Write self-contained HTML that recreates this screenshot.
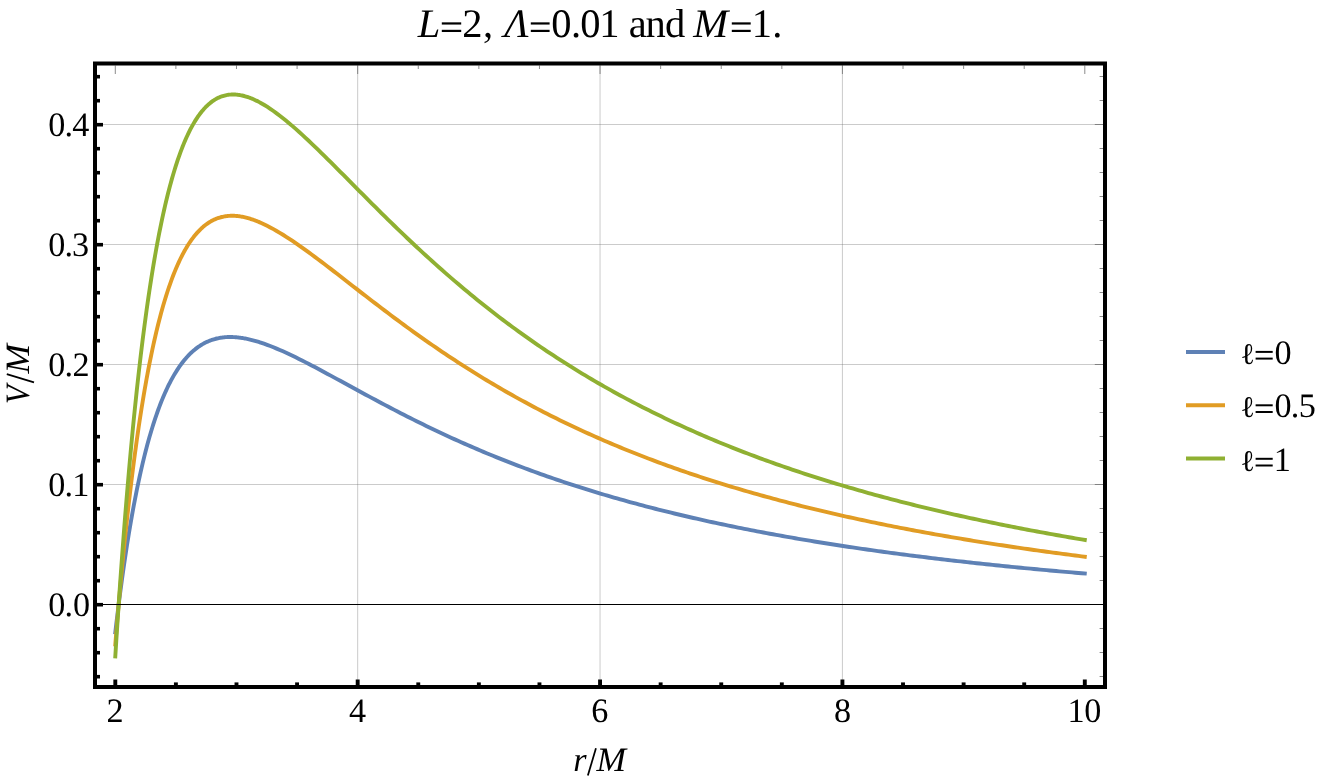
<!DOCTYPE html>
<html><head><meta charset="utf-8"><title>plot</title>
<style>
html,body{margin:0;padding:0;background:#fff;}
body{width:1329px;height:780px;overflow:hidden;position:relative;}
svg{position:absolute;left:0;top:0;display:block;will-change:transform;}
text{font-family:"Liberation Serif",serif;fill:#000;text-rendering:geometricPrecision;}
.i{font-style:italic;}
.ell{font-family:"Liberation Serif","DejaVu Serif",serif;}
</style></head><body>
<svg width="1329" height="780" viewBox="0 0 1329 780">
<rect x="0" y="0" width="1329" height="780" fill="#fff"/>
<g stroke="#666" stroke-opacity="0.34" stroke-width="1" fill="none">
<line x1="357.68" y1="63.50" x2="357.68" y2="687.00"/>
<line x1="600.05" y1="63.50" x2="600.05" y2="687.00"/>
<line x1="842.42" y1="63.50" x2="842.42" y2="687.00"/>
<line x1="95.00" y1="484.50" x2="1105.00" y2="484.50"/>
<line x1="95.00" y1="364.50" x2="1105.00" y2="364.50"/>
<line x1="95.00" y1="244.50" x2="1105.00" y2="244.50"/>
<line x1="95.00" y1="124.50" x2="1105.00" y2="124.50"/>
</g>
<g fill="none" stroke-width="3.9" stroke-linejoin="round" stroke-linecap="square">
<path stroke="#5e81b5" d="M115.30,632.39 L116.28,624.06 L117.25,615.93 L118.23,608.01 L119.20,600.28 L120.18,592.75 L121.16,585.41 L122.13,578.25 L123.11,571.27 L124.08,564.47 L125.06,557.84 L126.04,551.37 L127.01,545.07 L127.99,538.92 L128.96,532.93 L129.94,527.09 L130.92,521.40 L131.89,515.85 L132.87,510.45 L133.84,505.18 L134.82,500.04 L135.80,495.04 L136.77,490.16 L137.75,485.41 L138.72,480.78 L139.70,476.26 L140.68,471.87 L141.65,467.58 L142.63,463.41 L143.60,459.35 L144.58,455.39 L145.56,451.53 L146.53,447.78 L147.51,444.12 L148.48,440.56 L149.46,437.09 L150.44,433.72 L151.41,430.43 L152.39,427.23 L153.36,424.12 L154.34,421.09 L155.32,418.14 L156.29,415.27 L157.27,412.48 L158.24,409.77 L159.22,407.13 L160.20,404.56 L161.17,402.07 L162.15,399.64 L163.12,397.28 L164.10,394.99 L165.08,392.76 L166.05,390.60 L167.03,388.49 L168.00,386.45 L168.98,384.47 L169.96,382.55 L170.93,380.68 L171.91,378.87 L172.88,377.11 L173.86,375.40 L174.84,373.75 L175.81,372.14 L176.79,370.59 L177.76,369.09 L178.74,367.63 L179.72,366.22 L180.69,364.85 L181.67,363.53 L182.64,362.25 L183.62,361.01 L184.60,359.81 L185.57,358.66 L186.55,357.54 L187.52,356.47 L188.50,355.43 L189.48,354.42 L190.45,353.46 L191.43,352.53 L192.40,351.63 L193.38,350.77 L194.36,349.94 L195.33,349.14 L196.31,348.38 L197.28,347.64 L198.26,346.94 L199.24,346.26 L200.21,345.62 L201.19,345.00 L202.16,344.41 L203.14,343.85 L204.12,343.31 L205.09,342.80 L206.07,342.32 L207.04,341.86 L208.02,341.43 L209.00,341.01 L209.97,340.63 L210.95,340.26 L211.92,339.92 L212.90,339.59 L213.88,339.29 L214.85,339.01 L215.83,338.75 L216.80,338.51 L217.78,338.29 L218.76,338.09 L219.73,337.91 L220.71,337.75 L221.68,337.60 L222.66,337.47 L223.64,337.36 L224.61,337.26 L225.59,337.18 L226.56,337.12 L227.54,337.07 L228.52,337.04 L229.49,337.02 L230.47,337.02 L231.44,337.03 L232.42,337.05 L233.40,337.09 L234.37,337.14 L235.35,337.21 L236.32,337.28 L237.30,337.37 L238.28,337.47 L239.25,337.59 L240.23,337.71 L241.20,337.85 L242.18,338.00 L243.16,338.15 L244.13,338.32 L245.11,338.50 L246.08,338.69 L247.06,338.89 L248.04,339.10 L249.01,339.32 L249.99,339.54 L250.96,339.78 L251.94,340.02 L252.92,340.28 L253.89,340.54 L254.87,340.81 L255.84,341.09 L256.82,341.37 L257.80,341.67 L258.77,341.97 L259.75,342.27 L260.73,342.59 L263.91,343.66 L267.09,344.80 L270.27,346.01 L273.45,347.27 L276.63,348.58 L279.82,349.94 L283.00,351.34 L286.18,352.79 L289.36,354.27 L292.54,355.79 L295.72,357.33 L298.91,358.91 L302.09,360.51 L305.27,362.13 L308.45,363.77 L311.63,365.43 L314.81,367.10 L318.00,368.79 L321.18,370.48 L324.36,372.19 L327.54,373.91 L330.72,375.63 L333.91,377.36 L337.09,379.09 L340.27,380.83 L343.45,382.56 L346.63,384.30 L349.81,386.04 L353.00,387.78 L356.18,389.51 L359.36,391.24 L362.54,392.97 L365.72,394.69 L368.90,396.40 L372.09,398.12 L375.27,399.82 L378.45,401.52 L381.63,403.21 L384.81,404.89 L388.00,406.56 L391.18,408.23 L394.36,409.89 L397.54,411.53 L400.72,413.17 L403.90,414.80 L407.09,416.42 L410.27,418.02 L413.45,419.62 L416.63,421.21 L419.81,422.78 L422.99,424.35 L426.18,425.90 L429.36,427.44 L432.54,428.97 L435.72,430.49 L438.90,432.00 L442.09,433.49 L445.27,434.97 L448.45,436.45 L451.63,437.91 L454.81,439.35 L457.99,440.79 L461.18,442.21 L464.36,443.63 L467.54,445.03 L470.72,446.41 L473.90,447.79 L477.08,449.16 L480.27,450.51 L483.45,451.85 L486.63,453.18 L489.81,454.50 L492.99,455.80 L496.18,457.10 L499.36,458.38 L502.54,459.65 L505.72,460.91 L508.90,462.16 L512.08,463.40 L515.27,464.63 L518.45,465.84 L521.63,467.05 L524.81,468.24 L527.99,469.42 L531.17,470.59 L534.36,471.76 L537.54,472.91 L540.72,474.05 L543.90,475.17 L547.08,476.29 L550.26,477.40 L553.45,478.50 L556.63,479.59 L559.81,480.67 L562.99,481.73 L566.17,482.79 L569.36,483.84 L572.54,484.88 L575.72,485.91 L578.90,486.93 L582.08,487.94 L585.26,488.94 L588.45,489.93 L591.63,490.91 L594.81,491.88 L597.99,492.85 L601.17,493.80 L604.35,494.75 L607.54,495.69 L610.72,496.61 L613.90,497.53 L617.08,498.45 L620.26,499.35 L623.45,500.24 L626.63,501.13 L629.81,502.01 L632.99,502.88 L636.17,503.74 L639.35,504.60 L642.54,505.44 L645.72,506.28 L648.90,507.11 L652.08,507.93 L655.26,508.75 L658.44,509.56 L661.63,510.36 L664.81,511.15 L667.99,511.94 L671.17,512.72 L674.35,513.49 L677.54,514.26 L680.72,515.02 L683.90,515.77 L687.08,516.51 L690.26,517.25 L693.44,517.98 L696.63,518.71 L699.81,519.42 L702.99,520.14 L706.17,520.84 L709.35,521.54 L712.53,522.23 L715.72,522.92 L718.90,523.60 L722.08,524.27 L725.26,524.94 L728.44,525.61 L731.62,526.26 L734.81,526.91 L737.99,527.56 L741.17,528.20 L744.35,528.83 L747.53,529.46 L750.72,530.08 L753.90,530.70 L757.08,531.31 L760.26,531.92 L763.44,532.52 L766.62,533.12 L769.81,533.71 L772.99,534.29 L776.17,534.87 L779.35,535.45 L782.53,536.02 L785.71,536.59 L788.90,537.15 L792.08,537.70 L795.26,538.25 L798.44,538.80 L801.62,539.34 L804.81,539.88 L807.99,540.41 L811.17,540.94 L814.35,541.47 L817.53,541.99 L820.71,542.50 L823.90,543.01 L827.08,543.52 L830.26,544.02 L833.44,544.52 L836.62,545.01 L839.80,545.50 L842.99,545.99 L846.17,546.47 L849.35,546.95 L852.53,547.42 L855.71,547.89 L858.90,548.36 L862.08,548.82 L865.26,549.28 L868.44,549.73 L871.62,550.18 L874.80,550.63 L877.99,551.07 L881.17,551.51 L884.35,551.95 L887.53,552.38 L890.71,552.81 L893.89,553.24 L897.08,553.66 L900.26,554.08 L903.44,554.49 L906.62,554.90 L909.80,555.31 L912.99,555.72 L916.17,556.12 L919.35,556.52 L922.53,556.92 L925.71,557.31 L928.89,557.70 L932.08,558.08 L935.26,558.47 L938.44,558.85 L941.62,559.23 L944.80,559.60 L947.98,559.97 L951.17,560.34 L954.35,560.71 L957.53,561.07 L960.71,561.43 L963.89,561.79 L967.07,562.14 L970.26,562.49 L973.44,562.84 L976.62,563.19 L979.80,563.53 L982.98,563.87 L986.17,564.21 L989.35,564.55 L992.53,564.88 L995.71,565.21 L998.89,565.54 L1002.07,565.86 L1005.26,566.19 L1008.44,566.51 L1011.62,566.82 L1014.80,567.14 L1017.98,567.45 L1021.16,567.76 L1024.35,568.07 L1027.53,568.38 L1030.71,568.68 L1033.89,568.98 L1037.07,569.28 L1040.26,569.58 L1043.44,569.87 L1046.62,570.17 L1049.80,570.46 L1052.98,570.75 L1056.16,571.03 L1059.35,571.32 L1062.53,571.60 L1065.71,571.88 L1068.89,572.16 L1072.07,572.43 L1075.25,572.70 L1078.44,572.98 L1081.62,573.25 L1084.80,573.51"/>
<path stroke="#e19c24" d="M115.30,644.39 L116.28,632.48 L117.25,620.86 L118.23,609.52 L119.20,598.47 L120.18,587.68 L121.16,577.17 L122.13,566.91 L123.11,556.91 L124.08,547.16 L125.06,537.64 L126.04,528.36 L127.01,519.32 L127.99,510.49 L128.96,501.89 L129.94,493.50 L130.92,485.32 L131.89,477.34 L132.87,469.57 L133.84,461.98 L134.82,454.59 L135.80,447.38 L136.77,440.35 L137.75,433.50 L138.72,426.82 L139.70,420.32 L140.68,413.97 L141.65,407.79 L142.63,401.76 L143.60,395.89 L144.58,390.17 L145.56,384.59 L146.53,379.16 L147.51,373.86 L148.48,368.71 L149.46,363.69 L150.44,358.79 L151.41,354.03 L152.39,349.39 L153.36,344.87 L154.34,340.47 L155.32,336.19 L156.29,332.02 L157.27,327.96 L158.24,324.02 L159.22,320.17 L160.20,316.43 L161.17,312.80 L162.15,309.26 L163.12,305.82 L164.10,302.47 L165.08,299.22 L166.05,296.06 L167.03,292.98 L168.00,290.00 L168.98,287.10 L169.96,284.28 L170.93,281.54 L171.91,278.88 L172.88,276.30 L173.86,273.80 L174.84,271.36 L175.81,269.01 L176.79,266.72 L177.76,264.50 L178.74,262.35 L179.72,260.27 L180.69,258.25 L181.67,256.30 L182.64,254.40 L183.62,252.57 L184.60,250.80 L185.57,249.09 L186.55,247.43 L187.52,245.83 L188.50,244.28 L189.48,242.79 L190.45,241.35 L191.43,239.95 L192.40,238.61 L193.38,237.32 L194.36,236.08 L195.33,234.88 L196.31,233.73 L197.28,232.62 L198.26,231.56 L199.24,230.54 L200.21,229.56 L201.19,228.63 L202.16,227.73 L203.14,226.87 L204.12,226.05 L205.09,225.27 L206.07,224.52 L207.04,223.82 L208.02,223.14 L209.00,222.50 L209.97,221.90 L210.95,221.32 L211.92,220.78 L212.90,220.27 L213.88,219.80 L214.85,219.35 L215.83,218.93 L216.80,218.54 L217.78,218.18 L218.76,217.85 L219.73,217.54 L220.71,217.26 L221.68,217.01 L222.66,216.78 L223.64,216.57 L224.61,216.39 L225.59,216.24 L226.56,216.11 L227.54,216.00 L228.52,215.91 L229.49,215.84 L230.47,215.80 L231.44,215.77 L232.42,215.77 L233.40,215.79 L234.37,215.82 L235.35,215.88 L236.32,215.95 L237.30,216.04 L238.28,216.15 L239.25,216.28 L240.23,216.42 L241.20,216.58 L242.18,216.76 L243.16,216.95 L244.13,217.16 L245.11,217.38 L246.08,217.62 L247.06,217.87 L248.04,218.14 L249.01,218.42 L249.99,218.71 L250.96,219.02 L251.94,219.34 L252.92,219.67 L253.89,220.02 L254.87,220.37 L255.84,220.74 L256.82,221.12 L257.80,221.51 L258.77,221.92 L259.75,222.33 L260.73,222.75 L263.91,224.20 L267.09,225.76 L270.27,227.40 L273.45,229.13 L276.63,230.94 L279.82,232.82 L283.00,234.77 L286.18,236.78 L289.36,238.84 L292.54,240.96 L295.72,243.12 L298.91,245.32 L302.09,247.57 L305.27,249.84 L308.45,252.15 L311.63,254.49 L314.81,256.85 L318.00,259.23 L321.18,261.63 L324.36,264.05 L327.54,266.48 L330.72,268.92 L333.91,271.37 L337.09,273.83 L340.27,276.30 L343.45,278.77 L346.63,281.24 L349.81,283.72 L353.00,286.19 L356.18,288.66 L359.36,291.13 L362.54,293.59 L365.72,296.05 L368.90,298.51 L372.09,300.95 L375.27,303.39 L378.45,305.82 L381.63,308.24 L384.81,310.65 L388.00,313.05 L391.18,315.44 L394.36,317.82 L397.54,320.18 L400.72,322.53 L403.90,324.87 L407.09,327.20 L410.27,329.51 L413.45,331.80 L416.63,334.09 L419.81,336.35 L422.99,338.60 L426.18,340.84 L429.36,343.06 L432.54,345.26 L435.72,347.45 L438.90,349.63 L442.09,351.78 L445.27,353.92 L448.45,356.05 L451.63,358.15 L454.81,360.24 L457.99,362.32 L461.18,364.38 L464.36,366.42 L467.54,368.44 L470.72,370.45 L473.90,372.44 L477.08,374.42 L480.27,376.38 L483.45,378.32 L486.63,380.24 L489.81,382.15 L492.99,384.04 L496.18,385.92 L499.36,387.78 L502.54,389.62 L505.72,391.45 L508.90,393.26 L512.08,395.06 L515.27,396.84 L518.45,398.60 L521.63,400.35 L524.81,402.08 L527.99,403.80 L531.17,405.50 L534.36,407.19 L537.54,408.86 L540.72,410.52 L543.90,412.16 L547.08,413.79 L550.26,415.40 L553.45,417.00 L556.63,418.58 L559.81,420.15 L562.99,421.70 L566.17,423.24 L569.36,424.77 L572.54,426.28 L575.72,427.78 L578.90,429.27 L582.08,430.74 L585.26,432.19 L588.45,433.64 L591.63,435.07 L594.81,436.49 L597.99,437.90 L601.17,439.29 L604.35,440.67 L607.54,442.04 L610.72,443.39 L613.90,444.74 L617.08,446.07 L620.26,447.39 L623.45,448.69 L626.63,449.99 L629.81,451.27 L632.99,452.54 L636.17,453.80 L639.35,455.05 L642.54,456.29 L645.72,457.52 L648.90,458.73 L652.08,459.94 L655.26,461.13 L658.44,462.31 L661.63,463.48 L664.81,464.65 L667.99,465.80 L671.17,466.94 L674.35,468.07 L677.54,469.19 L680.72,470.30 L683.90,471.40 L687.08,472.49 L690.26,473.58 L693.44,474.65 L696.63,475.71 L699.81,476.76 L702.99,477.81 L706.17,478.84 L709.35,479.87 L712.53,480.88 L715.72,481.89 L718.90,482.89 L722.08,483.88 L725.26,484.86 L728.44,485.83 L731.62,486.80 L734.81,487.75 L737.99,488.70 L741.17,489.64 L744.35,490.57 L747.53,491.50 L750.72,492.41 L753.90,493.32 L757.08,494.22 L760.26,495.11 L763.44,496.00 L766.62,496.87 L769.81,497.74 L772.99,498.60 L776.17,499.46 L779.35,500.31 L782.53,501.15 L785.71,501.98 L788.90,502.81 L792.08,503.62 L795.26,504.44 L798.44,505.24 L801.62,506.04 L804.81,506.83 L807.99,507.62 L811.17,508.40 L814.35,509.17 L817.53,509.94 L820.71,510.70 L823.90,511.45 L827.08,512.20 L830.26,512.94 L833.44,513.67 L836.62,514.40 L839.80,515.12 L842.99,515.84 L846.17,516.55 L849.35,517.26 L852.53,517.96 L855.71,518.65 L858.90,519.34 L862.08,520.02 L865.26,520.70 L868.44,521.37 L871.62,522.04 L874.80,522.70 L877.99,523.35 L881.17,524.01 L884.35,524.65 L887.53,525.29 L890.71,525.93 L893.89,526.56 L897.08,527.18 L900.26,527.80 L903.44,528.42 L906.62,529.03 L909.80,529.63 L912.99,530.23 L916.17,530.83 L919.35,531.42 L922.53,532.01 L925.71,532.59 L928.89,533.17 L932.08,533.74 L935.26,534.31 L938.44,534.87 L941.62,535.43 L944.80,535.99 L947.98,536.54 L951.17,537.09 L954.35,537.63 L957.53,538.17 L960.71,538.70 L963.89,539.23 L967.07,539.76 L970.26,540.28 L973.44,540.80 L976.62,541.32 L979.80,541.83 L982.98,542.33 L986.17,542.84 L989.35,543.34 L992.53,543.83 L995.71,544.32 L998.89,544.81 L1002.07,545.30 L1005.26,545.78 L1008.44,546.25 L1011.62,546.73 L1014.80,547.20 L1017.98,547.66 L1021.16,548.13 L1024.35,548.59 L1027.53,549.04 L1030.71,549.50 L1033.89,549.95 L1037.07,550.39 L1040.26,550.84 L1043.44,551.28 L1046.62,551.71 L1049.80,552.15 L1052.98,552.58 L1056.16,553.00 L1059.35,553.43 L1062.53,553.85 L1065.71,554.27 L1068.89,554.68 L1072.07,555.09 L1075.25,555.50 L1078.44,555.91 L1081.62,556.31 L1084.80,556.71"/>
<path stroke="#8fb032" d="M115.30,656.39 L116.28,640.90 L117.25,625.78 L118.23,611.03 L119.20,596.65 L120.18,582.62 L121.16,568.93 L122.13,555.57 L123.11,542.55 L124.08,529.84 L125.06,517.45 L126.04,505.36 L127.01,493.57 L127.99,482.07 L128.96,470.85 L129.94,459.91 L130.92,449.24 L131.89,438.83 L132.87,428.68 L133.84,418.79 L134.82,409.13 L135.80,399.72 L136.77,390.55 L137.75,381.60 L138.72,372.87 L139.70,364.37 L140.68,356.08 L141.65,347.99 L142.63,340.11 L143.60,332.43 L144.58,324.95 L145.56,317.65 L146.53,310.54 L147.51,303.61 L148.48,296.86 L149.46,290.28 L150.44,283.87 L151.41,277.63 L152.39,271.55 L153.36,265.62 L154.34,259.86 L155.32,254.24 L156.29,248.77 L157.27,243.45 L158.24,238.26 L159.22,233.22 L160.20,228.31 L161.17,223.53 L162.15,218.88 L163.12,214.36 L164.10,209.96 L165.08,205.68 L166.05,201.52 L167.03,197.48 L168.00,193.54 L168.98,189.72 L169.96,186.01 L170.93,182.40 L171.91,178.90 L172.88,175.49 L173.86,172.19 L174.84,168.98 L175.81,165.87 L176.79,162.85 L177.76,159.92 L178.74,157.08 L179.72,154.32 L180.69,151.65 L181.67,149.07 L182.64,146.56 L183.62,144.13 L184.60,141.78 L185.57,139.51 L186.55,137.31 L187.52,135.19 L188.50,133.13 L189.48,131.15 L190.45,129.23 L191.43,127.38 L192.40,125.60 L193.38,123.88 L194.36,122.22 L195.33,120.62 L196.31,119.08 L197.28,117.60 L198.26,116.18 L199.24,114.82 L200.21,113.51 L201.19,112.25 L202.16,111.04 L203.14,109.89 L204.12,108.79 L205.09,107.74 L206.07,106.73 L207.04,105.77 L208.02,104.86 L209.00,103.99 L209.97,103.17 L210.95,102.39 L211.92,101.65 L212.90,100.96 L213.88,100.30 L214.85,99.68 L215.83,99.11 L216.80,98.57 L217.78,98.07 L218.76,97.60 L219.73,97.17 L220.71,96.78 L221.68,96.41 L222.66,96.09 L223.64,95.79 L224.61,95.53 L225.59,95.30 L226.56,95.09 L227.54,94.92 L228.52,94.78 L229.49,94.67 L230.47,94.58 L231.44,94.52 L232.42,94.49 L233.40,94.48 L234.37,94.50 L235.35,94.55 L236.32,94.62 L237.30,94.71 L238.28,94.83 L239.25,94.97 L240.23,95.13 L241.20,95.31 L242.18,95.52 L243.16,95.74 L244.13,95.99 L245.11,96.26 L246.08,96.54 L247.06,96.85 L248.04,97.17 L249.01,97.52 L249.99,97.88 L250.96,98.26 L251.94,98.65 L252.92,99.06 L253.89,99.49 L254.87,99.94 L255.84,100.40 L256.82,100.87 L257.80,101.36 L258.77,101.87 L259.75,102.38 L260.73,102.92 L263.91,104.75 L267.09,106.71 L270.27,108.79 L273.45,110.99 L276.63,113.30 L279.82,115.70 L283.00,118.19 L286.18,120.76 L289.36,123.41 L292.54,126.13 L295.72,128.90 L298.91,131.74 L302.09,134.63 L305.27,137.56 L308.45,140.54 L311.63,143.55 L314.81,146.60 L318.00,149.67 L321.18,152.78 L324.36,155.90 L327.54,159.05 L330.72,162.21 L333.91,165.39 L337.09,168.58 L340.27,171.77 L343.45,174.97 L346.63,178.18 L349.81,181.39 L353.00,184.60 L356.18,187.81 L359.36,191.02 L362.54,194.22 L365.72,197.42 L368.90,200.61 L372.09,203.79 L375.27,206.97 L378.45,210.13 L381.63,213.28 L384.81,216.42 L388.00,219.54 L391.18,222.65 L394.36,225.75 L397.54,228.83 L400.72,231.90 L403.90,234.95 L407.09,237.98 L410.27,240.99 L413.45,243.99 L416.63,246.96 L419.81,249.92 L422.99,252.86 L426.18,255.78 L429.36,258.68 L432.54,261.56 L435.72,264.42 L438.90,267.26 L442.09,270.07 L445.27,272.87 L448.45,275.65 L451.63,278.40 L454.81,281.14 L457.99,283.85 L461.18,286.54 L464.36,289.21 L467.54,291.86 L470.72,294.49 L473.90,297.09 L477.08,299.68 L480.27,302.24 L483.45,304.78 L486.63,307.30 L489.81,309.80 L492.99,312.28 L496.18,314.74 L499.36,317.18 L502.54,319.59 L505.72,321.99 L508.90,324.36 L512.08,326.72 L515.27,329.05 L518.45,331.36 L521.63,333.65 L524.81,335.93 L527.99,338.18 L531.17,340.41 L534.36,342.62 L537.54,344.82 L540.72,346.99 L543.90,349.14 L547.08,351.28 L550.26,353.39 L553.45,355.49 L556.63,357.57 L559.81,359.63 L562.99,361.67 L566.17,363.69 L569.36,365.70 L572.54,367.68 L575.72,369.65 L578.90,371.60 L582.08,373.54 L585.26,375.45 L588.45,377.35 L591.63,379.23 L594.81,381.10 L597.99,382.95 L601.17,384.78 L604.35,386.59 L607.54,388.39 L610.72,390.17 L613.90,391.94 L617.08,393.69 L620.26,395.42 L623.45,397.14 L626.63,398.85 L629.81,400.53 L632.99,402.21 L636.17,403.87 L639.35,405.51 L642.54,407.14 L645.72,408.75 L648.90,410.35 L652.08,411.94 L655.26,413.51 L658.44,415.07 L661.63,416.61 L664.81,418.14 L667.99,419.66 L671.17,421.16 L674.35,422.65 L677.54,424.12 L680.72,425.59 L683.90,427.04 L687.08,428.48 L690.26,429.90 L693.44,431.31 L696.63,432.71 L699.81,434.10 L702.99,435.48 L706.17,436.84 L709.35,438.19 L712.53,439.53 L715.72,440.86 L718.90,442.18 L722.08,443.48 L725.26,444.78 L728.44,446.06 L731.62,447.33 L734.81,448.60 L737.99,449.85 L741.17,451.09 L744.35,452.31 L747.53,453.53 L750.72,454.74 L753.90,455.94 L757.08,457.13 L760.26,458.30 L763.44,459.47 L766.62,460.63 L769.81,461.78 L772.99,462.91 L776.17,464.04 L779.35,465.16 L782.53,466.27 L785.71,467.37 L788.90,468.46 L792.08,469.55 L795.26,470.62 L798.44,471.68 L801.62,472.74 L804.81,473.79 L807.99,474.82 L811.17,475.85 L814.35,476.87 L817.53,477.89 L820.71,478.89 L823.90,479.89 L827.08,480.87 L830.26,481.85 L833.44,482.83 L836.62,483.79 L839.80,484.75 L842.99,485.69 L846.17,486.64 L849.35,487.57 L852.53,488.49 L855.71,489.41 L858.90,490.32 L862.08,491.23 L865.26,492.12 L868.44,493.01 L871.62,493.89 L874.80,494.77 L877.99,495.64 L881.17,496.50 L884.35,497.35 L887.53,498.20 L890.71,499.04 L893.89,499.88 L897.08,500.70 L900.26,501.52 L903.44,502.34 L906.62,503.15 L909.80,503.95 L912.99,504.75 L916.17,505.54 L919.35,506.32 L922.53,507.10 L925.71,507.87 L928.89,508.63 L932.08,509.39 L935.26,510.15 L938.44,510.90 L941.62,511.64 L944.80,512.38 L947.98,513.11 L951.17,513.83 L954.35,514.55 L957.53,515.27 L960.71,515.98 L963.89,516.68 L967.07,517.38 L970.26,518.07 L973.44,518.76 L976.62,519.44 L979.80,520.12 L982.98,520.79 L986.17,521.46 L989.35,522.13 L992.53,522.78 L995.71,523.44 L998.89,524.08 L1002.07,524.73 L1005.26,525.37 L1008.44,526.00 L1011.62,526.63 L1014.80,527.26 L1017.98,527.88 L1021.16,528.49 L1024.35,529.10 L1027.53,529.71 L1030.71,530.31 L1033.89,530.91 L1037.07,531.50 L1040.26,532.09 L1043.44,532.68 L1046.62,533.26 L1049.80,533.83 L1052.98,534.41 L1056.16,534.98 L1059.35,535.54 L1062.53,536.10 L1065.71,536.66 L1068.89,537.21 L1072.07,537.76 L1075.25,538.30 L1078.44,538.84 L1081.62,539.38 L1084.80,539.91"/>
</g>
<g stroke="#6e6e6e" stroke-width="0.8" fill="none">
<line x1="115.30" y1="65.50" x2="115.30" y2="74.00"/>
<line x1="175.89" y1="65.50" x2="175.89" y2="69.00"/>
<line x1="236.49" y1="65.50" x2="236.49" y2="69.00"/>
<line x1="297.08" y1="65.50" x2="297.08" y2="69.00"/>
<line x1="357.68" y1="65.50" x2="357.68" y2="74.00"/>
<line x1="418.27" y1="65.50" x2="418.27" y2="69.00"/>
<line x1="478.86" y1="65.50" x2="478.86" y2="69.00"/>
<line x1="539.46" y1="65.50" x2="539.46" y2="69.00"/>
<line x1="600.05" y1="65.50" x2="600.05" y2="74.00"/>
<line x1="660.64" y1="65.50" x2="660.64" y2="69.00"/>
<line x1="721.24" y1="65.50" x2="721.24" y2="69.00"/>
<line x1="781.83" y1="65.50" x2="781.83" y2="69.00"/>
<line x1="842.42" y1="65.50" x2="842.42" y2="74.00"/>
<line x1="903.02" y1="65.50" x2="903.02" y2="69.00"/>
<line x1="963.61" y1="65.50" x2="963.61" y2="69.00"/>
<line x1="1024.21" y1="65.50" x2="1024.21" y2="69.00"/>
<line x1="1084.80" y1="65.50" x2="1084.80" y2="74.00"/>
<line x1="1103.00" y1="676.50" x2="1099.60" y2="676.50"/>
<line x1="1103.00" y1="652.50" x2="1099.60" y2="652.50"/>
<line x1="1103.00" y1="628.50" x2="1099.60" y2="628.50"/>
<line x1="1103.00" y1="604.50" x2="1094.80" y2="604.50"/>
<line x1="1103.00" y1="580.50" x2="1099.60" y2="580.50"/>
<line x1="1103.00" y1="556.50" x2="1099.60" y2="556.50"/>
<line x1="1103.00" y1="532.50" x2="1099.60" y2="532.50"/>
<line x1="1103.00" y1="508.50" x2="1099.60" y2="508.50"/>
<line x1="1103.00" y1="484.50" x2="1094.80" y2="484.50"/>
<line x1="1103.00" y1="460.50" x2="1099.60" y2="460.50"/>
<line x1="1103.00" y1="436.50" x2="1099.60" y2="436.50"/>
<line x1="1103.00" y1="412.50" x2="1099.60" y2="412.50"/>
<line x1="1103.00" y1="388.50" x2="1099.60" y2="388.50"/>
<line x1="1103.00" y1="364.50" x2="1094.80" y2="364.50"/>
<line x1="1103.00" y1="340.50" x2="1099.60" y2="340.50"/>
<line x1="1103.00" y1="316.50" x2="1099.60" y2="316.50"/>
<line x1="1103.00" y1="292.50" x2="1099.60" y2="292.50"/>
<line x1="1103.00" y1="268.50" x2="1099.60" y2="268.50"/>
<line x1="1103.00" y1="244.50" x2="1094.80" y2="244.50"/>
<line x1="1103.00" y1="220.50" x2="1099.60" y2="220.50"/>
<line x1="1103.00" y1="196.50" x2="1099.60" y2="196.50"/>
<line x1="1103.00" y1="172.50" x2="1099.60" y2="172.50"/>
<line x1="1103.00" y1="148.50" x2="1099.60" y2="148.50"/>
<line x1="1103.00" y1="124.50" x2="1094.80" y2="124.50"/>
<line x1="1103.00" y1="100.50" x2="1099.60" y2="100.50"/>
<line x1="1103.00" y1="76.50" x2="1099.60" y2="76.50"/>
</g>
<g stroke="#000" stroke-width="3.9" fill="none">
<line x1="115.30" y1="685.20" x2="115.30" y2="679.50"/>
<line x1="175.89" y1="685.20" x2="175.89" y2="682.40"/>
<line x1="236.49" y1="685.20" x2="236.49" y2="682.40"/>
<line x1="297.08" y1="685.20" x2="297.08" y2="682.40"/>
<line x1="357.68" y1="685.20" x2="357.68" y2="679.50"/>
<line x1="418.27" y1="685.20" x2="418.27" y2="682.40"/>
<line x1="478.86" y1="685.20" x2="478.86" y2="682.40"/>
<line x1="539.46" y1="685.20" x2="539.46" y2="682.40"/>
<line x1="600.05" y1="685.20" x2="600.05" y2="679.50"/>
<line x1="660.64" y1="685.20" x2="660.64" y2="682.40"/>
<line x1="721.24" y1="685.20" x2="721.24" y2="682.40"/>
<line x1="781.83" y1="685.20" x2="781.83" y2="682.40"/>
<line x1="842.42" y1="685.20" x2="842.42" y2="679.50"/>
<line x1="903.02" y1="685.20" x2="903.02" y2="682.40"/>
<line x1="963.61" y1="685.20" x2="963.61" y2="682.40"/>
<line x1="1024.21" y1="685.20" x2="1024.21" y2="682.40"/>
<line x1="1084.80" y1="685.20" x2="1084.80" y2="679.50"/>
<line x1="96.80" y1="676.70" x2="100.00" y2="676.70" stroke-width="3.6"/>
<line x1="96.80" y1="652.70" x2="100.00" y2="652.70" stroke-width="3.6"/>
<line x1="96.80" y1="628.70" x2="100.00" y2="628.70" stroke-width="3.6"/>
<line x1="96.80" y1="604.70" x2="103.00" y2="604.70" stroke-width="3.6"/>
<line x1="96.80" y1="580.70" x2="100.00" y2="580.70" stroke-width="3.6"/>
<line x1="96.80" y1="556.70" x2="100.00" y2="556.70" stroke-width="3.6"/>
<line x1="96.80" y1="532.70" x2="100.00" y2="532.70" stroke-width="3.6"/>
<line x1="96.80" y1="508.70" x2="100.00" y2="508.70" stroke-width="3.6"/>
<line x1="96.80" y1="484.70" x2="103.00" y2="484.70" stroke-width="3.6"/>
<line x1="96.80" y1="460.70" x2="100.00" y2="460.70" stroke-width="3.6"/>
<line x1="96.80" y1="436.70" x2="100.00" y2="436.70" stroke-width="3.6"/>
<line x1="96.80" y1="412.70" x2="100.00" y2="412.70" stroke-width="3.6"/>
<line x1="96.80" y1="388.70" x2="100.00" y2="388.70" stroke-width="3.6"/>
<line x1="96.80" y1="364.70" x2="103.00" y2="364.70" stroke-width="3.6"/>
<line x1="96.80" y1="340.70" x2="100.00" y2="340.70" stroke-width="3.6"/>
<line x1="96.80" y1="316.70" x2="100.00" y2="316.70" stroke-width="3.6"/>
<line x1="96.80" y1="292.70" x2="100.00" y2="292.70" stroke-width="3.6"/>
<line x1="96.80" y1="268.70" x2="100.00" y2="268.70" stroke-width="3.6"/>
<line x1="96.80" y1="244.70" x2="103.00" y2="244.70" stroke-width="3.6"/>
<line x1="96.80" y1="220.70" x2="100.00" y2="220.70" stroke-width="3.6"/>
<line x1="96.80" y1="196.70" x2="100.00" y2="196.70" stroke-width="3.6"/>
<line x1="96.80" y1="172.70" x2="100.00" y2="172.70" stroke-width="3.6"/>
<line x1="96.80" y1="148.70" x2="100.00" y2="148.70" stroke-width="3.6"/>
<line x1="96.80" y1="124.70" x2="103.00" y2="124.70" stroke-width="3.6"/>
<line x1="96.80" y1="100.70" x2="100.00" y2="100.70" stroke-width="3.6"/>
<line x1="96.80" y1="76.70" x2="100.00" y2="76.70" stroke-width="3.6"/>
</g>
<line x1="95.00" y1="604.50" x2="1105.00" y2="604.50" stroke="#000" stroke-width="1.2"/>
<rect x="95.00" y="63.50" width="1010.00" height="623.50" fill="none" stroke="#000" stroke-width="4.0"/>
<text x="48.35" y="615.50" font-size="34.20">0</text>
<text x="64.52" y="615.50" font-size="34.20">.</text>
<text x="72.95" y="615.50" font-size="34.20">0</text>
<text x="48.35" y="495.50" font-size="34.20">0</text>
<text x="64.52" y="495.50" font-size="34.20">.</text>
<text x="72.32" y="495.50" font-size="34.20">1</text>
<text x="48.35" y="375.50" font-size="34.20">0</text>
<text x="64.52" y="375.50" font-size="34.20">.</text>
<text x="72.49" y="375.50" font-size="34.20">2</text>
<text x="48.35" y="255.50" font-size="34.20">0</text>
<text x="64.52" y="255.50" font-size="34.20">.</text>
<text x="71.95" y="255.50" font-size="34.20">3</text>
<text x="48.35" y="135.50" font-size="34.20">0</text>
<text x="64.52" y="135.50" font-size="34.20">.</text>
<text x="72.13" y="135.50" font-size="34.20">4</text>
<text x="106.49" y="722.30" font-size="34.20">2</text>
<text x="348.88" y="722.30" font-size="34.20">4</text>
<text x="591.37" y="722.30" font-size="34.20">6</text>
<text x="833.90" y="722.30" font-size="34.20">8</text>
<text x="1067.42" y="722.30" font-size="34.20">1</text>
<text x="1084.20" y="722.30" font-size="34.20">0</text>
<text x="573.30" y="770.70" font-size="34.20" class="i">r</text>
<text transform="translate(596.40,770.70) scale(1.035,1.000)" font-size="34.20" class="i">M</text>
<line x1="587.85" y1="775.6" x2="595.95" y2="748.2" stroke="#000" stroke-width="1.75"/>
<text transform="translate(29.30,404.09) rotate(-90) scale(0.900,1.000)" font-size="34.20" class="i">V</text>
<text transform="translate(29.30,373.60) rotate(-90) scale(1.035,1.000)" font-size="34.20" class="i">M</text>
<line x1="34.0" y1="382.3" x2="6.8" y2="374.1" stroke="#000" stroke-width="1.75"/>
<text x="417.63" y="36.70" font-size="40.50" class="i">L</text>
<rect x="441.80" y="22.35" width="19.40" height="2.21" fill="#000"/>
<rect x="441.80" y="29.80" width="19.40" height="2.21" fill="#000"/>
<text x="462.30" y="36.70" font-size="40.50">2</text>
<text x="482.89" y="36.70" font-size="40.50">,</text>
<text x="504.37" y="36.70" font-size="40.50" class="i">Λ</text>
<rect x="530.80" y="22.35" width="18.80" height="2.21" fill="#000"/>
<rect x="530.80" y="29.80" width="18.80" height="2.21" fill="#000"/>
<text x="551.17" y="36.70" font-size="40.50">0</text>
<text x="570.89" y="36.70" font-size="40.50">.</text>
<text x="580.33" y="36.70" font-size="40.50">0</text>
<text x="599.26" y="36.70" font-size="40.50">1</text>
<text x="628.83" y="36.70" font-size="40.50">a</text>
<text x="645.62" y="36.70" font-size="40.50">n</text>
<text x="665.04" y="36.70" font-size="40.50">d</text>
<text transform="translate(693.37,36.70) scale(1.035,1.000)" font-size="40.50" class="i">M</text>
<rect x="731.80" y="22.35" width="18.90" height="2.21" fill="#000"/>
<rect x="731.80" y="29.80" width="18.90" height="2.21" fill="#000"/>
<text x="751.66" y="36.70" font-size="40.50">1</text>
<text x="772.19" y="36.70" font-size="40.50">.</text>
<g stroke-width="4" fill="none">
<line x1="1186" y1="352.0" x2="1225" y2="352.0" stroke="#5e81b5"/>
<line x1="1186" y1="405.2" x2="1225" y2="405.2" stroke="#e19c24"/>
<line x1="1186" y1="458.5" x2="1225" y2="458.5" stroke="#8fb032"/>
</g>
<text x="1240.50" y="363.70" font-size="30" class="ell">ℓ</text>
<rect x="1255.60" y="350.91" width="17.10" height="1.98" fill="#000"/>
<rect x="1255.60" y="357.61" width="17.10" height="1.98" fill="#000"/>
<text x="1274.45" y="363.70" font-size="34.20">0</text>
<text x="1240.50" y="417.10" font-size="30" class="ell">ℓ</text>
<rect x="1255.60" y="404.31" width="17.10" height="1.98" fill="#000"/>
<rect x="1255.60" y="411.01" width="17.10" height="1.98" fill="#000"/>
<text x="1274.45" y="417.10" font-size="34.20">0</text>
<text x="1290.67" y="417.10" font-size="34.20">.</text>
<text x="1298.77" y="417.10" font-size="34.20">5</text>
<text x="1240.50" y="470.60" font-size="30" class="ell">ℓ</text>
<rect x="1255.60" y="457.81" width="17.10" height="1.98" fill="#000"/>
<rect x="1255.60" y="464.51" width="17.10" height="1.98" fill="#000"/>
<text x="1273.67" y="470.60" font-size="34.20">1</text>
</svg>
</body></html>
